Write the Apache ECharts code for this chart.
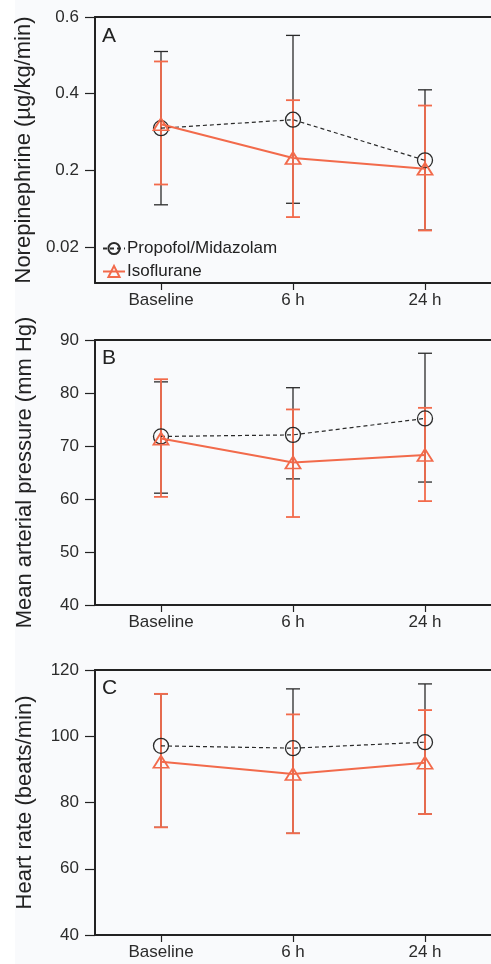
<!DOCTYPE html>
<html>
<head>
<meta charset="utf-8">
<script src="https://cdn.jsdelivr.net/npm/echarts@6/dist/echarts.min.js"></script>
<style>
html,body{margin:0;padding:0;background:#f9fafc;}
#chart{width:491px;height:964px;}
</style>
</head>
<body>
<div id="chart"></div>
<script>
// ---- data ----
const categories = ['Baseline', '6 h', '24 h'];
const seriesNames = ['Propofol/Midazolam', 'Isoflurane'];

// Panel A: Norepinephrine (µg/kg/min)
const neTicks = [0, 0.2, 0.4, 0.6];
const neTickLabels = ['0.02', '0.2', '0.4', '0.6'];
const neMeanProp = [0.310, 0.332, 0.226];
const neLowProp  = [0.110, 0.114, 0.044];
const neHighProp = [0.510, 0.552, 0.410];
const neMeanIso  = [0.320, 0.232, 0.204];
const neLowIso   = [0.163, 0.078, 0.043];
const neHighIso  = [0.484, 0.383, 0.369];

// Panel B: Mean arterial pressure (mm Hg)
const mapMeanProp = [71.8, 72.1, 75.2];
const mapLowProp  = [61.1, 63.8, 63.2];
const mapHighProp = [82.1, 81.0, 87.5];
const mapMeanIso  = [71.4, 66.9, 68.3];
const mapLowIso   = [60.4, 56.6, 59.6];
const mapHighIso  = [82.6, 76.9, 77.2];

// Panel C: Heart rate (beats/min)
const hrMeanProp = [97.1, 96.4, 98.2];
const hrLowProp  = [72.5, 70.7, 76.5];
const hrHighProp = [112.8, 114.3, 115.8];
const hrMeanIso  = [92.3, 88.6, 92.0];
const hrLowIso   = [72.5, 70.7, 76.5];
const hrHighIso  = [112.8, 106.6, 107.9];

// ---- styles ----
const DARK = '#2a2a2a';
const ORANGE = '#f26a4b';
const FONT = '"Liberation Sans", Arial, Helvetica, sans-serif';
const AXIS_COLOR = '#222';

const grids = [
  { left: 95, right: 0, top: 17, height: 266 },
  { left: 95, right: 0, top: 340, height: 265 },
  { left: 95, right: 0, top: 670, height: 265 }
];

function bottomX(i) {
  return {
    type: 'category', gridIndex: i, data: categories, boundaryGap: true, position: 'bottom',
    axisLine: { show: true, onZero: false, lineStyle: { color: AXIS_COLOR, width: 2 } },
    axisTick: { show: true, alignWithLabel: true, length: 7, lineStyle: { color: AXIS_COLOR, width: 1.2 } },
    axisLabel: { fontSize: 17, color: '#2b2b2b', fontFamily: FONT, margin: 9 },
    splitLine: { show: false }
  };
}
function topX(i) {
  return {
    type: 'category', gridIndex: i, data: categories, position: 'top',
    axisLine: { show: true, onZero: false, lineStyle: { color: AXIS_COLOR, width: 2 } },
    axisTick: { show: false }, axisLabel: { show: false }, splitLine: { show: false }
  };
}
function yAx(i, opts) {
  return Object.assign({
    type: 'value', gridIndex: i,
    nameLocation: 'middle', nameGap: 59,
    nameTextStyle: { fontSize: 22, color: '#222', fontFamily: FONT },
    axisLine: { show: true, onZero: false, lineStyle: { color: AXIS_COLOR, width: 2 } },
    axisTick: { show: true, inside: false, length: 10, lineStyle: { color: AXIS_COLOR, width: 1.2 } },
    axisLabel: { fontSize: 17, color: '#2b2b2b', fontFamily: FONT, margin: 16 },
    splitLine: { show: false }
  }, opts);
}

function errData(low, high) {
  return categories.map((c, k) => [k, low[k], high[k]]);
}
function errSeries(name, xi, yi, low, high, color, width, z) {
  return {
    type: 'custom', name: name, xAxisIndex: xi, yAxisIndex: yi, z: z,
    encode: { x: 0, y: [1, 2] },
    data: errData(low, high),
    silent: true,
    renderItem: function (params, api) {
      const x = api.value(0);
      const lo = api.coord([x, api.value(1)]);
      const hi = api.coord([x, api.value(2)]);
      const w = 7;
      const st = { stroke: color, lineWidth: width };
      return {
        type: 'group',
        children: [
          { type: 'line', shape: { x1: lo[0], y1: lo[1], x2: hi[0], y2: hi[1] }, style: st },
          { type: 'line', shape: { x1: lo[0] - w, y1: lo[1], x2: lo[0] + w, y2: lo[1] }, style: st },
          { type: 'line', shape: { x1: hi[0] - w, y1: hi[1], x2: hi[0] + w, y2: hi[1] }, style: st }
        ]
      };
    }
  };
}
function propLine(xi, yi, data) {
  return {
    type: 'line', name: seriesNames[0], xAxisIndex: xi, yAxisIndex: yi, z: 4,
    data: data, symbol: 'circle', symbolSize: 15,
    itemStyle: { color: 'rgba(0,0,0,0)', borderColor: DARK, borderWidth: 1.3 },
    lineStyle: { color: DARK, width: 1.2, type: [4, 3] },
    emphasis: { disabled: true }
  };
}
function isoLine(xi, yi, data) {
  return {
    type: 'line', name: seriesNames[1], xAxisIndex: xi, yAxisIndex: yi, z: 5,
    data: data, symbol: 'triangle', symbolSize: [15, 12],
    itemStyle: { color: 'rgba(0,0,0,0)', borderColor: ORANGE, borderWidth: 1.8 },
    lineStyle: { color: ORANGE, width: 2 },
    emphasis: { disabled: true }
  };
}

const titleStyle = { fontSize: 21, fontWeight: 'normal', color: '#222', fontFamily: FONT };

const option = {
  backgroundColor: '#f9fafc',
  animation: false,
  textStyle: { fontFamily: FONT },
  graphic: [
    { type: 'rect', left: 0, top: 0, shape: { width: 15, height: 964 }, style: { fill: '#ffffff' }, z: -10 }
  ],
  title: [
    { text: 'A', left: 97, top: 21, padding: 5, textStyle: titleStyle },
    { text: 'B', left: 97, top: 343, padding: 5, textStyle: titleStyle },
    { text: 'C', left: 97, top: 673, padding: 5, textStyle: titleStyle }
  ],
  legend: {
    data: seriesNames,
    orient: 'vertical', left: 97, top: 235,
    itemWidth: 22, itemHeight: 14, itemGap: 6,
    textStyle: { fontSize: 17, color: '#222', fontFamily: FONT, padding: [0, 0, 0, -3] },
    selectedMode: false
  },
  grid: grids,
  xAxis: [bottomX(0), bottomX(1), bottomX(2), topX(0), topX(1), topX(2)],
  yAxis: [
    yAx(0, {
      name: 'Norepinephrine (µg/kg/min)', min: -0.094, max: 0.6,
      axisTick: { show: true, length: 10, customValues: neTicks, lineStyle: { color: AXIS_COLOR, width: 1.2 } },
      axisLabel: {
        fontSize: 17, color: '#2b2b2b', fontFamily: FONT, margin: 16,
        customValues: neTicks,
        formatter: function (v) { const k = neTicks.indexOf(v); return k >= 0 ? neTickLabels[k] : ''; }
      }
    }),
    yAx(1, { name: 'Mean arterial pressure (mm Hg)', min: 40, max: 90, interval: 10 }),
    yAx(2, { name: 'Heart rate (beats/min)', min: 40, max: 120, interval: 20 })
  ],
  series: [
    errSeries('Propofol/Midazolam SD A', 0, 0, neLowProp, neHighProp, DARK, 1.3, 2),
    errSeries('Isoflurane SD A', 0, 0, neLowIso, neHighIso, ORANGE, 1.8, 3),
    propLine(0, 0, neMeanProp),
    isoLine(0, 0, neMeanIso),

    errSeries('Propofol/Midazolam SD B', 1, 1, mapLowProp, mapHighProp, DARK, 1.3, 2),
    errSeries('Isoflurane SD B', 1, 1, mapLowIso, mapHighIso, ORANGE, 1.8, 3),
    propLine(1, 1, mapMeanProp),
    isoLine(1, 1, mapMeanIso),

    errSeries('Propofol/Midazolam SD C', 2, 2, hrLowProp, hrHighProp, DARK, 1.3, 2),
    errSeries('Isoflurane SD C', 2, 2, hrLowIso, hrHighIso, ORANGE, 1.8, 3),
    propLine(2, 2, hrMeanProp),
    isoLine(2, 2, hrMeanIso)
  ]
};

const chart = echarts.init(document.getElementById('chart'), null, { renderer: 'canvas' });
chart.setOption(option);
</script>
</body>
</html>
